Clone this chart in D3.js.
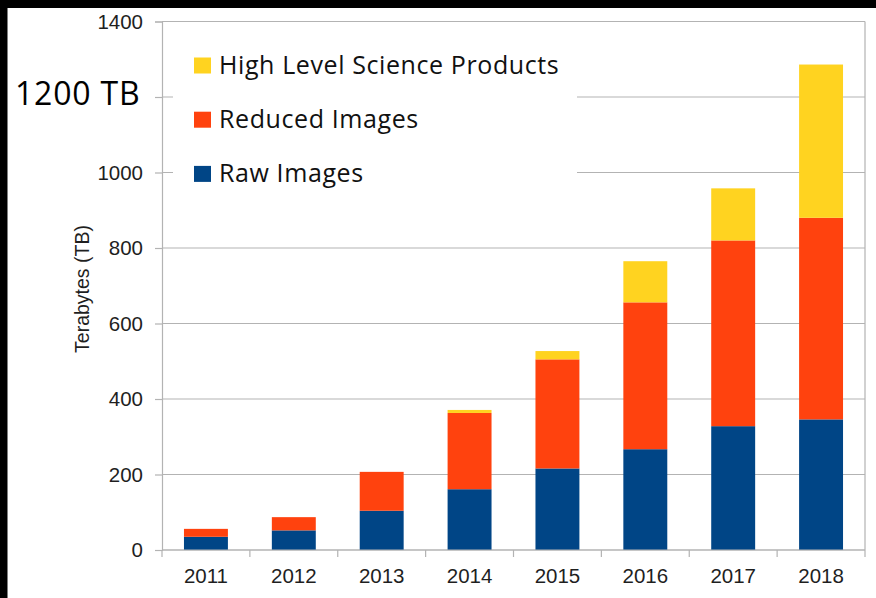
<!DOCTYPE html>
<html>
<head>
<meta charset="utf-8">
<script src="https://cdn.jsdelivr.net/npm/d3@7"></script>
<style>
  html, body { margin: 0; padding: 0; background: #fff; }
  svg { display: block; }
</style>
</head>
<body>
<svg id="chart" width="876" height="598"></svg>
<script>
// Archive volume per year, stacked by data product (TB)
const years = ["2011", "2012", "2013", "2014", "2015", "2016", "2017", "2018"];
const rawImages = [35, 52, 104, 161, 216, 267, 328, 346];
const reducedImages = [21, 35, 103, 202, 289, 389, 492, 534];
const highLevelProducts = [0, 0, 0, 8, 22, 109, 138, 406];
const yTicks = [0, 200, 400, 600, 800, 1000, 1200, 1400];
const seriesNames = ["Raw Images", "Reduced Images", "High Level Science Products"];
const seriesColors = ["#004586", "#ff420e", "#ffd320"];
const capacityNote = "1200 TB";

const rows = years.map((y, i) => ({
  year: y,
  "Raw Images": rawImages[i],
  "Reduced Images": reducedImages[i],
  "High Level Science Products": highLevelProducts[i]
}));

const svg = d3.select("#chart");
const W = 876, H = 598;
const plot = { left: 162, right: 865, top: 21.5, bottom: 550 };
const sans = "'Liberation Sans', Arial, sans-serif";
const body = "'Open Sans', Lato, sans-serif";

svg.append("rect").attr("width", W).attr("height", H).attr("fill", "#fff");

const x = d3.scaleBand().domain(years)
  .range([plot.left, plot.right]).paddingInner(0.5).paddingOuter(0.25);
const y = d3.scaleLinear().domain([0, 1400]).range([plot.bottom, plot.top]);

const grid = "#b3b3b3";

// horizontal gridlines
svg.append("g").selectAll("line").data(yTicks).join("line")
  .attr("x1", plot.left).attr("x2", plot.right)
  .attr("y1", d => y(d)).attr("y2", d => y(d))
  .attr("stroke", grid).attr("stroke-width", 1.2);

// right frame edge
svg.append("line").attr("x1", plot.right).attr("x2", plot.right)
  .attr("y1", plot.top).attr("y2", plot.bottom)
  .attr("stroke", grid).attr("stroke-width", 1.2);

// stacked bars
const stack = d3.stack().keys(seriesNames)(rows);
svg.append("g").selectAll("g").data(stack).join("g")
  .attr("fill", (d, i) => seriesColors[i])
  .selectAll("rect").data(d => d).join("rect")
  .attr("x", d => x(d.data.year))
  .attr("width", x.bandwidth())
  .attr("y", d => y(d[1]))
  .attr("height", d => y(d[0]) - y(d[1]));

// y axis (the 1200 position carries the capacity note instead of a number)
const yAxis = svg.append("g").attr("transform", `translate(${plot.left},0)`)
  .call(d3.axisLeft(y).tickValues(yTicks).tickSize(7).tickPadding(12)
    .tickFormat(d => d === 1200 ? "" : d3.format("d")(d)));
yAxis.select(".domain").attr("stroke", grid).attr("stroke-width", 1.2);
yAxis.selectAll(".tick line").attr("stroke", grid).attr("stroke-width", 1.2);
yAxis.selectAll(".tick text")
  .attr("font-family", sans).attr("font-size", 20.5).attr("fill", "#1f1f1f");

// x axis with ticks on category boundaries
const step = x.step();
const boundaries = years.map(d => x(d) - step * 0.25).concat([plot.right]);
const xAxis = svg.append("g");
xAxis.append("line").attr("x1", plot.left).attr("x2", plot.right)
  .attr("y1", plot.bottom).attr("y2", plot.bottom)
  .attr("stroke", grid).attr("stroke-width", 1.2);
xAxis.selectAll("line.tk").data(boundaries).join("line").attr("class", "tk")
  .attr("x1", d => d).attr("x2", d => d)
  .attr("y1", plot.bottom).attr("y2", plot.bottom + 7)
  .attr("stroke", grid).attr("stroke-width", 1.2);
xAxis.selectAll("text").data(years).join("text")
  .attr("x", d => x(d) + x.bandwidth() / 2).attr("y", 583)
  .attr("text-anchor", "middle")
  .attr("font-family", sans).attr("font-size", 20.5).attr("fill", "#1f1f1f")
  .text(d => d);

// y axis title
svg.append("text")
  .attr("transform", `translate(89,289) rotate(-90)`)
  .attr("text-anchor", "middle")
  .attr("font-family", sans).attr("font-size", 19.5).attr("fill", "#1f1f1f")
  .text("Terabytes (TB)");

// legend panel
const legend = svg.append("g");
legend.append("rect").attr("x", 173).attr("y", 36).attr("width", 404).attr("height", 162).attr("fill", "#fff");
const legendOrder = [2, 1, 0];
legendOrder.forEach((si, row) => {
  const base = 73.5 + row * 54.2;
  legend.append("rect").attr("x", 194).attr("y", base - 16).attr("width", 17).attr("height", 16)
    .attr("fill", seriesColors[si]);
  legend.append("text").attr("x", 219).attr("y", base)
    .attr("font-family", body).attr("font-size", 25).attr("letter-spacing", 0.6)
    .attr("fill", "#111")
    .text(seriesNames[si]);
});

// capacity note next to the axis
svg.append("text").attr("x", 15).attr("y", 105)
  .attr("font-family", body).attr("font-size", 32).attr("letter-spacing", 0.8)
  .attr("fill", "#000")
  .text(capacityNote);

// dark edges along top and left
svg.append("rect").attr("x", 0).attr("y", 0).attr("width", W).attr("height", 8).attr("fill", "#000");
svg.append("rect").attr("x", 0).attr("y", 0).attr("width", 7.5).attr("height", H).attr("fill", "#000");
</script>
</body>
</html>
